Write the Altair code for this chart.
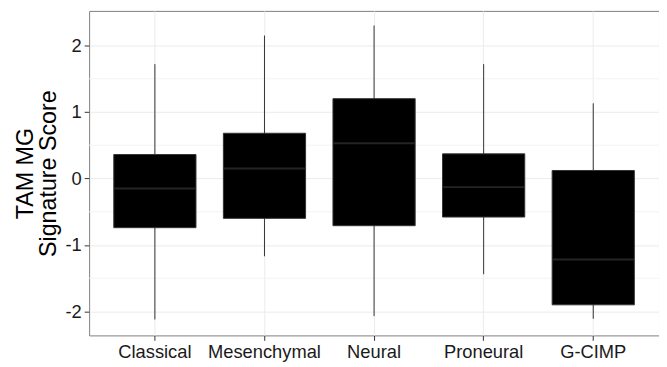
import altair as alt
import pandas as pd

categories = ["Classical", "Mesenchymal", "Neural", "Proneural", "G-CIMP"]
whisker_low = [-2.12, -1.17, -2.07, -1.44, -2.11]
q1 = [-0.74, -0.60, -0.71, -0.58, -1.90]
median = [-0.15, 0.15, 0.53, -0.13, -1.22]
q3 = [0.36, 0.68, 1.20, 0.37, 0.12]
whisker_high = [1.72, 2.15, 2.30, 1.72, 1.13]
minor_ticks = [-1.5, -0.5, 0.5, 1.5]

df = pd.DataFrame({
    "cat": categories, "lo": whisker_low, "q1": q1, "med": median,
    "q3": q3, "hi": whisker_high,
})
minor_df = pd.DataFrame({"v": minor_ticks})

W, H = 576, 328
ydom = [-2.36, 2.52]
FONT = "Liberation Sans"

xscale = alt.Scale(domain=categories, paddingInner=0.25, paddingOuter=0.225)
yscale = alt.Scale(domain=ydom, nice=False, zero=False)

x_enc = alt.X("cat:N", scale=xscale, sort=categories, title=None,
              axis=alt.Axis(labelAngle=0, labelFontSize=18.5, labelColor="#1a1a1a",
                            labelFont=FONT, tickColor="#333333",
                            tickSize=5, domain=False, grid=True, gridColor="#ebebeb",
                            tickBand="center", labelPadding=2))

minor = alt.Chart(minor_df).mark_rule(color="#f3f3f3", strokeWidth=1).encode(
    y=alt.Y("v:Q", scale=yscale)
)

base = alt.Chart(df)

whisk = base.mark_rule(color="#333333", strokeWidth=1).encode(
    x=x_enc,
    y=alt.Y("lo:Q", scale=yscale, title=["TAM MG", "Signature Score"],
            axis=alt.Axis(values=[-2, -1, 0, 1, 2], labelExpr="'' + datum.value",
                          labelFontSize=18.5,
                          labelColor="#1a1a1a", labelFont=FONT,
                          tickColor="#333333", tickSize=5, domain=False,
                          grid=True, gridColor="#ebebeb", titleFontSize=23.5,
                          titleFont=FONT, titleFontWeight="normal",
                          titleLineHeight=23,
                          titleColor="#000000", titlePadding=5, labelPadding=3)),
    y2="hi:Q",
)

box = base.mark_bar(color="#000000", stroke="#333333", strokeWidth=1).encode(
    x=alt.X("cat:N", scale=xscale, sort=categories),
    y=alt.Y("q1:Q", scale=yscale),
    y2="q3:Q",
)

bw = W / 5.2 * 0.75
med = base.mark_tick(color="#333333", thickness=2, size=bw - 1, orient="horizontal").encode(
    x=alt.X("cat:N", scale=xscale, sort=categories),
    y=alt.Y("med:Q", scale=yscale),
)

chart = alt.layer(minor, whisk, box, med).properties(
    width=W, height=H,
    autosize=alt.AutoSizeParams(type="none"),
    padding={"left": 82, "top": 1, "right": 0, "bottom": 30},
).configure_view(stroke="#808080", strokeWidth=1)

chart.save("out.html", embed_options={"renderer": "svg", "actions": False})
